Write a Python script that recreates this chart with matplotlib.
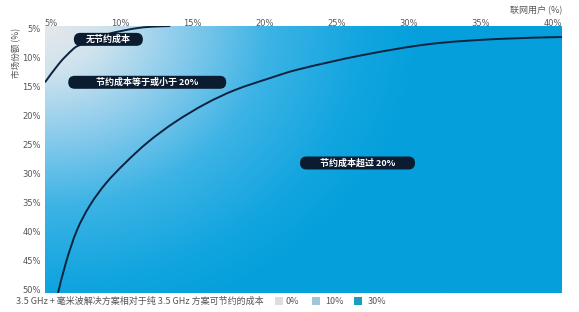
import numpy as np
import matplotlib
matplotlib.use("Agg")
import matplotlib.pyplot as plt
from matplotlib.colors import LinearSegmentedColormap
from matplotlib.patches import Rectangle, FancyBboxPatch, PathPatch
from matplotlib.path import Path

plt.rcParams['font.family'] = ['Noto Sans CJK SC', 'DejaVu Sans']

# data
x_ticks = [5, 10, 15, 20, 25, 30, 35, 40]
y_ticks = [5, 10, 15, 20, 25, 30, 35, 40, 45, 50]
x_tick_labels = ['5%', '10%', '15%', '20%', '25%', '30%', '35%', '40%']
y_tick_labels = ['5%', '10%', '15%', '20%', '25%', '30%', '35%', '40%', '45%', '50%']

# boundary: no savings
c1_x = [4.1, 5.1, 6.0, 6.5, 8.3, 10.7, 12.8]
c1_y = [14.3, 11.0, 8.7, 7.9, 6.1, 4.9, 4.6]
# boundary: 20% savings
c2_x = [5.00, 5.56, 6.32, 7.23, 8.34, 9.66, 11.25, 13.13, 15.21, 17.29, 19.73,
        21.81, 26.18, 30.84, 35.49, 40.0]
c2_y = [50.63, 45.29, 39.78, 35.46, 31.67, 28.22, 24.60, 21.15, 18.05, 15.63, 13.57,
        12.01, 9.60, 7.70, 6.84, 6.50]

region_labels = ['无节约成本', '节约成本等于或小于 20%', '节约成本超过 20%']
region_pos = [(8.5, 6.9), (11.2, 14.3), (25.8, 28.2)]
region_box_w = [69, 158, 115]   # pill widths in pixels

legend_title = '3.5 GHz + 毫米波解决方案相对于纯 3.5 GHz 方案可节约的成本'
legend_labels = ['0%', '10%', '30%']
legend_colors = ['#dddddd', '#a3c6d4', '#1b9cc0']

W, H = 579, 312
fig = plt.figure(figsize=(W / 100, H / 100), dpi=100)
ax = fig.add_axes([45 / W, 1 - 293 / H, (562 - 45) / W, (293 - 26) / H])
xmin, xmax = 4.1, 40.0
ymin, ymax = 4.6, 50.6
ax.set_xlim(xmin, xmax)
ax.set_ylim(ymax, ymin)

# background gradient
gx = np.linspace(xmin, xmax, 400)
gy = np.linspace(ymin, ymax, 300)
GX, GY = np.meshgrid(gx, gy)
T = np.sqrt(((GX - xmin) / 26.0) ** 2 + ((GY - ymin) / 52.0) ** 2)
T = np.clip(T, 0, 1)
cmap = LinearSegmentedColormap.from_list('g', [
    (0.0, '#e6e8ea'), (0.15, '#cfe3ee'), (0.35, '#8fcdec'),
    (0.6, '#3cb3e5'), (0.85, '#12a5df'), (1.0, '#05a0dc')])
ax.imshow(T, cmap=cmap, extent=[xmin, xmax, ymax, ymin], aspect='auto',
          origin='upper', interpolation='bilinear', vmin=0, vmax=1, zorder=0)


def smooth_path(xs, ys):
    pts = np.column_stack([xs, ys]).astype(float)
    verts = [pts[0]]
    codes = [Path.MOVETO]
    n = len(pts)
    for i in range(n - 1):
        p0 = pts[i - 1] if i > 0 else pts[i]
        p1 = pts[i]
        p2 = pts[i + 1]
        p3 = pts[i + 2] if i + 2 < n else pts[i + 1]
        c1 = p1 + (p2 - p0) / 6.0
        c2 = p2 - (p3 - p1) / 6.0
        verts += [c1, c2, p2]
        codes += [Path.CURVE4] * 3
    return Path(verts, codes)


for xs, ys in [(c1_x, c1_y), (c2_x, c2_y)]:
    ax.add_patch(PathPatch(smooth_path(xs, ys), fc='none', ec='#0c2340', lw=1.4, zorder=2))

fig.canvas.draw()
for (lx, ly), txt, bw in zip(region_pos, region_labels, region_box_w):
    px, py = ax.transData.transform((lx, ly))
    bh = 13
    ax.add_artist(FancyBboxPatch((px - bw / 2, py - bh / 2), bw, bh,
                                 boxstyle='round,pad=0,rounding_size=6.5',
                                 fc='#0c1c30', ec='none', transform=None, zorder=3))
    ax.text(lx, ly, txt, ha='center', va='center', color='white', fontsize=6.5,
            fontweight='bold', zorder=4)

ax.xaxis.tick_top()
ax.set_xticks(x_ticks)
ax.set_xticklabels(x_tick_labels, ha='right')
ax.set_yticks(y_ticks)
ax.set_yticklabels(y_tick_labels)
ax.tick_params(axis='x', length=0, labelsize=6, colors='#555555', pad=-1.5)
ax.tick_params(axis='y', length=0, labelsize=6, colors='#555555', pad=3)
for lab in ax.get_xticklabels() + ax.get_yticklabels():
    lab.set_fontfamily(['DejaVu Sans'])
for s in ax.spines.values():
    s.set_visible(False)

fig.text(562 / W, 1 - 11 / H, '联网用户 (%)', ha='right', va='center', fontsize=6.5, color='#555555')
fig.text(17 / W, 1 - 53 / H, '市场份额 (%)', ha='center', va='center', rotation=90,
         fontsize=6.2, color='#555555')

# legend
fig.text(16 / W, 1 - 301 / H, legend_title, ha='left', va='center', fontsize=6.5, color='#555555')
sq_x = [275, 312, 354]
tx_x = [286, 325, 368]
for sx, tx, lab, col in zip(sq_x, tx_x, legend_labels, legend_colors):
    fig.patches.append(Rectangle((sx / W, 1 - 305 / H), 8 / W, 8 / H, transform=fig.transFigure,
                                 fc=col, ec='none'))
    fig.text(tx / W, 1 - 301 / H, lab, ha='left', va='center', fontsize=6.5, color='#555555')

fig.savefig('out.png', dpi=100)
